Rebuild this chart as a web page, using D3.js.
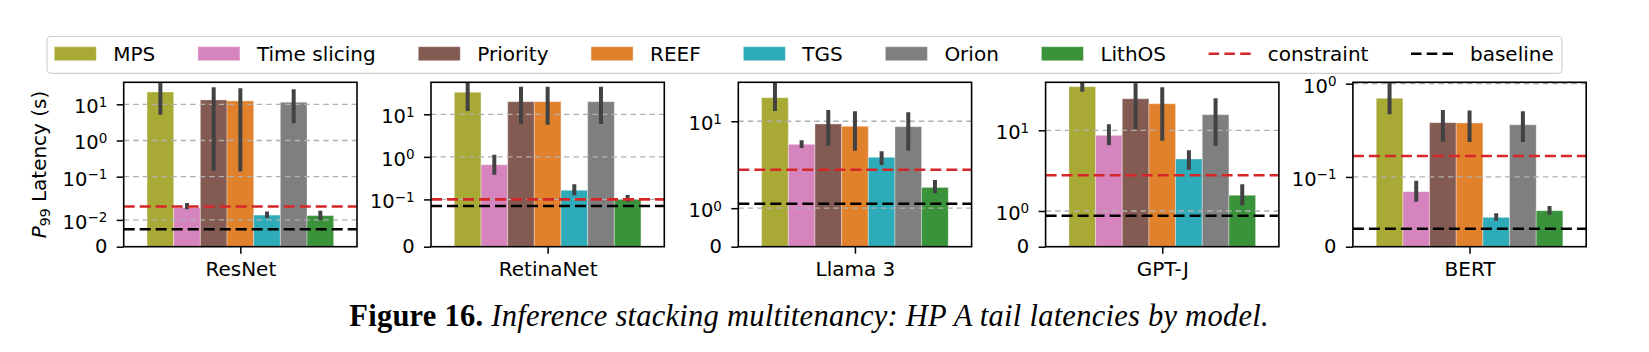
<!DOCTYPE html>
<html>
<head>
<meta charset="utf-8">
<script src="https://cdn.jsdelivr.net/npm/d3@7"></script>
<style>
  body { margin: 0; background: #fff; }
  text { font-family: "DejaVu Sans", sans-serif; }
</style>
</head>
<body>
<script>
const models = ["ResNet", "RetinaNet", "Llama 3", "GPT-J", "BERT"]
const systems = ["MPS", "Time slicing", "Priority", "REEF", "TGS", "Orion", "LithOS"]
const systemColors = ["#a9aa35", "#d684bd", "#845b53", "#e1812c", "#2eabb8", "#7f7f7f", "#3a923a"]

// P99 latency (s), one array per model, in the order of `systems`
const resnetP99 = [21.9, 0.0146, 13.2, 12.4, 0.0118, 11.4, 0.0116]
const resnetLo = [5.17, 0.0140, 0.147, 0.138, 0.0107, 2.99, 0.0100]
const resnetHi = [60, 0.0186, 29.5, 27.7, 0.0131, 26.0, 0.0134]

const retinaP99 = [32.9, 0.654, 19.8, 19.8, 0.164, 19.8, 0.100]
const retinaLo = [11.9, 0.381, 5.92, 5.70, 0.125, 5.92, 0.0945]
const retinaHi = [80, 1.12, 44.5, 44.5, 0.226, 44.5, 0.127]

const llamaP99 = [21.9, 4.65, 9.14, 8.46, 3.02, 8.35, 1.54]
const llamaLo = [14.1, 4.11, 4.44, 3.76, 2.34, 3.76, 1.39]
const llamaHi = [50, 5.31, 14.6, 13.9, 3.69, 13.5, 1.73]

const gptjP99 = [47.7, 8.36, 31.0, 25.9, 3.58, 17.5, 1.44]
const gptjLo = [39.9, 5.85, 10.5, 6.90, 2.44, 5.70, 1.15]
const gptjHi = [62, 12.4, 53.8, 46.7, 4.89, 31.5, 1.75]

const bertP99 = [0.663, 0.0789, 0.333, 0.330, 0.0421, 0.314, 0.0516]
const bertLo = [0.421, 0.0645, 0.195, 0.193, 0.0373, 0.193, 0.0459]
const bertHi = [1.2, 0.0946, 0.476, 0.47, 0.0479, 0.459, 0.0584]

const constraint = [0.015, 0.1, 2.0, 2.0, 0.13]
const baseline = [0.0065, 0.086, 1.117, 0.868, 0.0258]
const yMax = [40.6, 56.5, 36.5, 55.8, 1.04]
const yTicks = [[0, 0.01, 0.1, 1, 10], [0, 0.1, 1, 10], [0, 1, 10], [0, 1, 10], [0, 0.1, 1]]

const p99 = [resnetP99, retinaP99, llamaP99, gptjP99, bertP99]
const lo = [resnetLo, retinaLo, llamaLo, gptjLo, bertLo]
const hi = [resnetHi, retinaHi, llamaHi, gptjHi, bertHi]

let width = 1649
let height = 352
let panelLeft = 123.7
let panelStep = 307.3
let panelW = 233.3
let plotTop = 82.3
let plotBottom = 246.7

// matplotlib-style symlog, linthresh = constraint, linscale = 1
function symT(v, c) {
  return v <= c ? v / c / 0.9 : 1 / 0.9 + Math.log10(v / c)
}

const svg = d3.select("body")
  .append("svg")
  .attr("width", width)
  .attr("height", height)

models.forEach((model, i) => {
  const c = constraint[i]
  const x0 = panelLeft + i * panelStep
  const g = svg.append("g")

  const x = d3.scaleBand().domain(systems).range([x0 + panelW * 0.1, x0 + panelW * 0.9])
  const xc = d3.scalePoint().domain([model]).range([x0, x0 + panelW]).padding(0.5)
  const y = d3.scaleLinear().domain([0, symT(yMax[i], c)]).range([plotBottom, plotTop])
  const yv = v => y(symT(v, c))

  g.append("clipPath").attr("id", "clip" + i)
    .append("rect")
    .attr("x", x0).attr("y", plotTop)
    .attr("width", panelW).attr("height", plotBottom - plotTop)

  const inner = g.append("g").attr("clip-path", `url(#clip${i})`)

  inner.selectAll(".bar")
    .data(p99[i])
    .enter().append("rect")
    .attr("class", "bar")
    .attr("x", (d, j) => x(systems[j]))
    .attr("y", d => yv(d))
    .attr("width", x.bandwidth())
    .attr("height", d => plotBottom - yv(d))
    .attr("fill", (d, j) => systemColors[j])
    .attr("stroke", "#ffffff")
    .attr("stroke-opacity", 0.35)
    .attr("stroke-width", 1)

  // grid lines
  inner.selectAll(".grid")
    .data(yTicks[i].filter(t => t > 0))
    .enter().append("line")
    .attr("x1", x0).attr("x2", x0 + panelW)
    .attr("y1", d => yv(d)).attr("y2", d => yv(d))
    .attr("stroke", "#b0b0b0")
    .attr("stroke-width", 1.3)
    .attr("stroke-dasharray", "5.5,4")

  inner.selectAll(".err")
    .data(p99[i])
    .enter().append("line")
    .attr("x1", (d, j) => x(systems[j]) + x.bandwidth() / 2)
    .attr("x2", (d, j) => x(systems[j]) + x.bandwidth() / 2)
    .attr("y1", (d, j) => yv(lo[i][j]))
    .attr("y2", (d, j) => yv(hi[i][j]))
    .attr("stroke", "#424242")
    .attr("stroke-width", 4)

  inner.append("line")
    .attr("x1", x0).attr("x2", x0 + panelW)
    .attr("y1", yv(constraint[i])).attr("y2", yv(constraint[i]))
    .attr("stroke", "#d62728").attr("stroke-width", 2.6)
    .attr("stroke-dasharray", "11,5")

  inner.append("line")
    .attr("x1", x0).attr("x2", x0 + panelW)
    .attr("y1", yv(baseline[i])).attr("y2", yv(baseline[i]))
    .attr("stroke", "#000").attr("stroke-width", 2.6)
    .attr("stroke-dasharray", "11,5")

  // y axis
  const yAxis = g.append("g")
    .attr("transform", `translate(${x0},0)`)
    .call(d3.axisLeft(y)
      .tickValues(yTicks[i].map(t => symT(t, c)))
      .tickSize(7)
      .tickPadding(9.4)
      .tickFormat(""))
  yAxis.select(".domain").remove()
  yAxis.selectAll(".tick line").attr("stroke", "#000").attr("stroke-width", 1.5)
  yAxis.selectAll(".tick text")
    .data(yTicks[i])
    .attr("font-size", 19.5)
    .attr("fill", "#000")
    .attr("dy", d => d === 0 ? "0.3em" : "0.43em")
    .each(function (d) {
      const t = d3.select(this)
      if (d === 0) { t.text("0"); return }
      const e = Math.round(Math.log10(d))
      t.append("tspan").text("10")
      t.append("tspan").attr("dy", -6.5).attr("font-size", 13.5)
        .text(e < 0 ? "\u2212" + (-e) : String(e))
    })

  // x axis
  const xAxis = g.append("g")
    .attr("transform", `translate(0,${plotBottom})`)
    .call(d3.axisBottom(xc).tickSize(7).tickPadding(8))
  xAxis.select(".domain").remove()
  xAxis.selectAll(".tick line").attr("stroke", "#000").attr("stroke-width", 1.5)
  xAxis.selectAll(".tick text").attr("font-size", 20).attr("fill", "#000")
    .style("font-family", "DejaVu Sans")

  g.append("rect")
    .attr("x", x0).attr("y", plotTop)
    .attr("width", panelW).attr("height", plotBottom - plotTop)
    .attr("fill", "none").attr("stroke", "#000").attr("stroke-width", 1.6)
})

// y label
const ylab = svg.append("text")
  .attr("transform", `translate(46,${(plotTop + plotBottom) / 2}) rotate(-90)`)
  .attr("text-anchor", "middle")
  .attr("font-size", 20)
ylab.append("tspan").attr("font-style", "italic").text("P")
ylab.append("tspan").attr("font-size", 14).attr("dy", 4).text("99")
ylab.append("tspan").attr("dy", -4).text(" Latency (s)")

// legend
const legendItems = systems.map((s, j) => ({ label: s, color: systemColors[j], kind: "patch" }))
  .concat([{ label: "constraint", color: "#d62728", kind: "line" },
    { label: "baseline", color: "#000", kind: "line" }])

const legendBox = svg.append("rect")
  .attr("y", 36.5).attr("height", 36.8)
  .attr("rx", 4)
  .attr("fill", "#fff").attr("fill-opacity", 0.8)
  .attr("stroke", "#d0d0d0").attr("stroke-width", 1.2)

let lx = 54.3
legendItems.forEach(item => {
  if (item.kind === "patch") {
    svg.append("rect").attr("x", lx).attr("y", 46.7)
      .attr("width", 42).attr("height", 14)
      .attr("fill", item.color)
      .attr("stroke", "#ffffff").attr("stroke-opacity", 0.35)
  } else {
    svg.append("line").attr("x1", lx).attr("x2", lx + 42)
      .attr("y1", 53.7).attr("y2", 53.7)
      .attr("stroke", item.color).attr("stroke-width", 2.6)
      .attr("stroke-dasharray", "10.5,5.25")
  }
  const t = svg.append("text").attr("x", lx + 59).attr("y", 60.7)
    .attr("font-size", 20).text(item.label)
  lx = lx + 59 + t.node().getComputedTextLength() + 42.6
})
legendBox.attr("x", 47).attr("width", lx - 42.6 + 8.3 - 47)

// caption
const cap = svg.append("text")
  .attr("x", 349.3).attr("y", 326)
  .attr("font-size", 30.5)
  .attr("letter-spacing", 0.25)
  .style("font-family", "'Liberation Serif', serif")
cap.append("tspan").attr("font-weight", "bold").text("Figure 16. ")
cap.append("tspan").attr("font-style", "italic")
  .text("Inference stacking multitenancy: HP A tail latencies by model.")
</script>
</body>
</html>
